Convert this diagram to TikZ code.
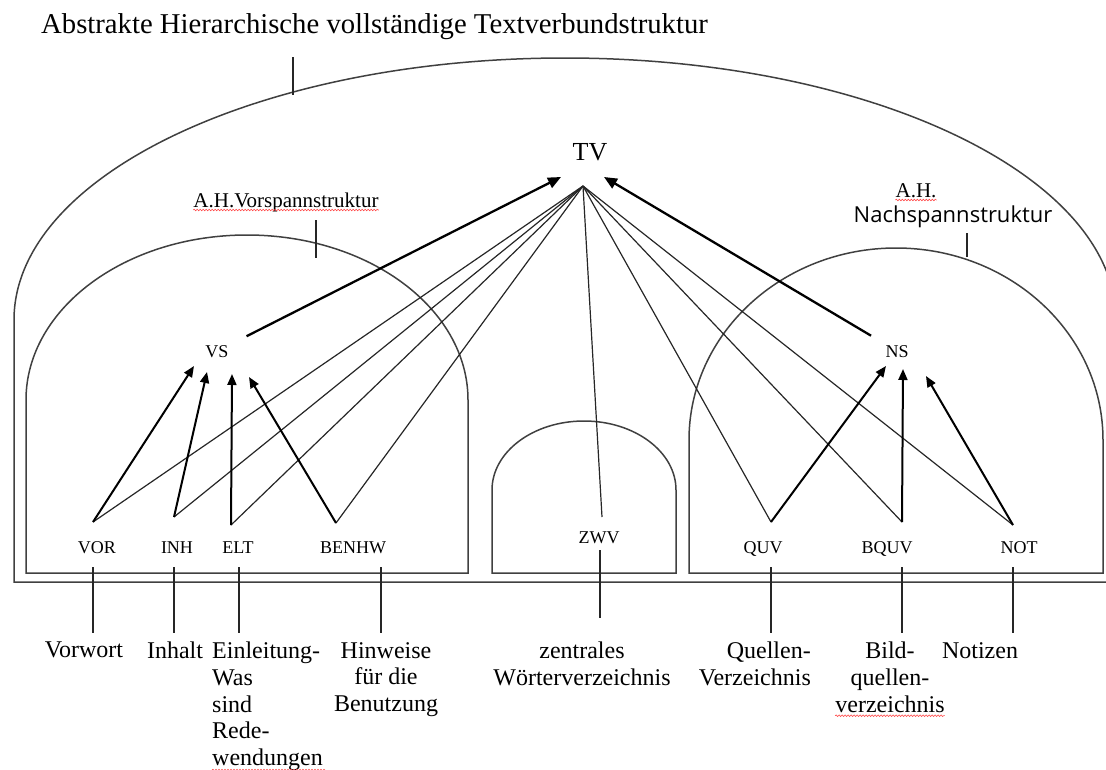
\documentclass[tikz,border=0pt]{standalone}
\usepackage{fontspec}
\setmainfont{Liberation Serif}
\newfontfamily\nachfont{Open Sans}
\usetikzlibrary{arrows.meta, decorations.pathmorphing}

\begin{document}
\begin{tikzpicture}[x=1pt, y=-1pt,
        arch/.style={line width=1.5pt, black!75},
        fan/.style={line width=1.2pt, black!85},
        uparrow/.style={line width=2pt, -{Triangle[length=11pt, width=9pt]}},
        tvarrow/.style={line width=2.3pt, -{Triangle[length=13pt, width=11pt]}},
        tag/.style={inner sep=0pt, font=\fontsize{18}{20}\selectfont},
        word/.style={inner sep=0pt, anchor=north, font=\fontsize{24}{26.7}\selectfont},
        squiggle/.style={red!70, line width=0.6pt, decorate, decoration={snake, amplitude=0.8pt, segment length=3pt}}]
        \useasboundingbox (0,0) rectangle (1106,769);
        \clip (0,0) rectangle (1106,769);

        \draw[arch] (14,582) -- (14,320) arc[start angle=180, end angle=0, x radius=551pt, y radius=262pt] -- (1116,582) -- cycle;
        \draw[arch] (26,573) -- (26,400) arc[start angle=180, end angle=0, x radius=221pt, y radius=165pt] -- (468,573) -- cycle;
        \draw[arch] (492,573) -- (492,490) arc[start angle=180, end angle=0, x radius=92pt, y radius=69pt] -- (676,573) -- cycle;
        \draw[arch] (689,573) -- (689,440) arc[start angle=180, end angle=0, x radius=207pt, y radius=192pt] -- (1103,573) -- cycle;

        \node[anchor=base west, inner sep=0pt, font=\fontsize{28.7}{32}\selectfont] (title) at (41,33) {Abstrakte Hierarchische vollständige Textverbundstruktur};
        \node[anchor=base, inner sep=0pt, font=\fontsize{26}{30}\selectfont] (tv) at (590,160) {TV};
        \node[anchor=base, inner sep=0pt, font=\fontsize{21}{24}\selectfont] (vsp) at (286,207) {A.H.Vorspannstruktur};
        \node[anchor=base, inner sep=0pt, font=\fontsize{21}{24}\selectfont] (ah) at (916,197) {A.H.};
        \node[anchor=base, inner sep=0pt, font=\nachfont\fontsize{22}{26}\selectfont] (nsp) at (953,222) {Nachspannstruktur};

        \coordinate (title-tick) at (293,57);
        \coordinate (vsp-tick) at (316,220);
        \coordinate (nsp-tick) at (967,233);
        \draw[fan] (title-tick) -- ++(0,38);
        \draw[fan] (vsp-tick) -- ++(0,38);
        \draw[fan] (nsp-tick) -- ++(0,24);

        \node[tag, anchor=base] (vs) at (217,357) {VS};
        \node[tag, anchor=base] (ns) at (897,357) {NS};
        \node[tag, anchor=base] (vor) at (97,553) {VOR};
        \node[tag, anchor=base] (inh) at (177,553) {INH};
        \node[tag, anchor=base] (elt) at (238,553) {ELT};
        \node[tag, anchor=base] (benhw) at (353,553) {BENHW};
        \node[tag, anchor=base] (zwv) at (599,543) {ZWV};
        \node[tag, anchor=base] (quv) at (763,553) {QUV};
        \node[tag, anchor=base] (bquv) at (887,553) {BQUV};
        \node[tag, anchor=base] (not) at (1019,553) {NOT};

        \coordinate (tv-c) at (583,186);
        \coordinate (tv-l) at (561,177);
        \coordinate (tv-r) at (604,177);
        \coordinate (vor-a) at (93,522);
        \coordinate (inh-a) at (174,517);
        \coordinate (elt-a) at (231,525);
        \coordinate (benhw-a) at (336,523);
        \coordinate (zwv-a) at (602,517);
        \coordinate (quv-a) at (771,522);
        \coordinate (bquv-a) at (902,522);
        \coordinate (not-a) at (1013,525);
        \coordinate (vs-1) at (194,366);
        \coordinate (vs-2) at (207,372);
        \coordinate (vs-3) at (232,374);
        \coordinate (vs-4) at (249,377);
        \coordinate (ns-1) at (886,366);
        \coordinate (ns-2) at (903,369);
        \coordinate (ns-3) at (926,376);

        \foreach \p in {vor-a, inh-a, elt-a, benhw-a, zwv-a, quv-a, bquv-a, not-a}
            \draw[fan] (tv-c) -- (\p);
        \foreach \a/\b in {vor-a/vs-1, inh-a/vs-2, elt-a/vs-3, benhw-a/vs-4, quv-a/ns-1, bquv-a/ns-2, not-a/ns-3}
            \draw[uparrow] (\a) -- (\b);
        \draw[tvarrow, shorten <=20pt] (vs) -- (tv-l);
        \draw[tvarrow, shorten <=18pt] (ns) -- (tv-r);

        \node[word] (vorwort) at (84,642) {Vorwort};
        \node[word] (inhalt) at (175,642) {Inhalt};
        \node[word, anchor=north west, align=left] (einl) at (212,642) {Einleitung-\\Was\\sind\\Rede-\\wendungen};
        \node[word, align=center] (hinweise) at (386,642) {Hinweise\\für die\\Benutzung};
        \node[word, align=center] (zentral) at (582,642) {zentrales\\Wörterverzeichnis};
        \node[word, anchor=north east, align=right] (quellen) at (811,642) {Quellen-\\Verzeichnis};
        \node[word, align=center] (bild) at (890,642) {Bild-\\quellen-\\verzeichnis};
        \node[word] (notizen) at (980,642) {Notizen};

        \coordinate (vor-f) at (93,567);
        \coordinate (inh-f) at (174,567);
        \coordinate (elt-f) at (239,567);
        \coordinate (benhw-f) at (381,567);
        \coordinate (quv-f) at (771,567);
        \coordinate (bquv-f) at (902,567);
        \coordinate (not-f) at (1013,567);
        \coordinate (zwv-f) at (600,550);
        \foreach \f in {vor-f, inh-f, elt-f, benhw-f, quv-f, bquv-f, not-f}
            \draw[fan] (\f) -- ++(0,66);
        \draw[fan] (zwv-f) -- ++(0,68);

        \draw[squiggle] ([yshift=-3pt]vsp.base west) -- ([yshift=-3pt]vsp.base east);
        \draw[squiggle] ([yshift=-3pt]ah.base west) -- ([yshift=-3pt]ah.base east);
        \draw[squiggle] ([yshift=1pt]einl.south west) -- ([xshift=113pt, yshift=1pt]einl.south west);
        \draw[squiggle] ([yshift=-3pt]bild.south west) -- ([yshift=-3pt]bild.south east);
    \end{tikzpicture}
\end{document}
